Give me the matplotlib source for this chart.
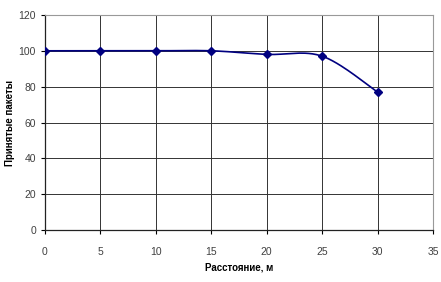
import matplotlib
matplotlib.use("Agg")
import matplotlib.pyplot as plt
import numpy as np

# distance (m) vs received packets
distance = [0, 5, 10, 15, 20, 25, 30]
received = [100, 100, 100, 100, 98, 97, 77]

x_ticks = [0, 5, 10, 15, 20, 25, 30, 35]
y_ticks = [0, 20, 40, 60, 80, 100, 120]

plt.rcParams["font.family"] = ["Liberation Sans Narrow", "Liberation Sans", "DejaVu Sans"]


def smooth(xs, ys, n=30):
    # Excel-style smoothed line: cubic bezier with catmull-rom tangents
    xs = np.asarray(xs, float)
    ys = np.asarray(ys, float)
    px = np.concatenate([[xs[0]], xs, [xs[-1]]])
    py = np.concatenate([[ys[0]], ys, [ys[-1]]])
    out_x, out_y = [], []
    t = np.linspace(0, 1, n)
    for i in range(1, len(px) - 2):
        p0 = np.array([px[i], py[i]])
        p3 = np.array([px[i + 1], py[i + 1]])
        p1 = p0 + (np.array([px[i + 1], py[i + 1]]) - np.array([px[i - 1], py[i - 1]])) / 6
        p2 = p3 - (np.array([px[i + 2], py[i + 2]]) - np.array([px[i], py[i]])) / 6
        b = ((1 - t) ** 3)[:, None] * p0 + (3 * (1 - t) ** 2 * t)[:, None] * p1 \
            + (3 * (1 - t) * t ** 2)[:, None] * p2 + (t ** 3)[:, None] * p3
        out_x.extend(b[:, 0])
        out_y.extend(b[:, 1])
    return out_x, out_y


fig = plt.figure(figsize=(4.41, 2.82), dpi=100)
ax = fig.add_axes([0.102, 0.184, 0.880, 0.763])

sx, sy = smooth(distance, received)
ax.plot(sx, sy, color="#000080", linewidth=1.2, zorder=3)
ax.plot(distance, received, linestyle="none", marker="D", markersize=4,
        color="#000080", zorder=4)

ax.set_xlim(0, 35)
ax.set_ylim(0, 120)
ax.set_xticks(x_ticks)
ax.set_yticks(y_ticks)
ax.tick_params(labelsize=7.5, colors="black", length=3, direction="out")
ax.tick_params(axis="x", pad=9)
for lbl in ax.get_xticklabels() + ax.get_yticklabels():
    lbl.set_color("#404040")

ax.grid(True, color="#333333", linewidth=0.7)
ax.set_axisbelow(True)
for s in ("top", "right"):
    ax.spines[s].set_color("#999999")
for s in ("left", "bottom"):
    ax.spines[s].set_color("#222222")
    ax.spines[s].set_linewidth(0.9)

ax.set_xlabel("Расстояние, м", fontsize=7, fontweight="bold")
ax.xaxis.set_label_coords(0.5, -0.15)
ax.set_ylabel("Принятые пакеты", fontsize=7, fontweight="bold")
ax.yaxis.set_label_coords(-0.078, 0.5)

fig.savefig("out.png", dpi=100, facecolor="white")
